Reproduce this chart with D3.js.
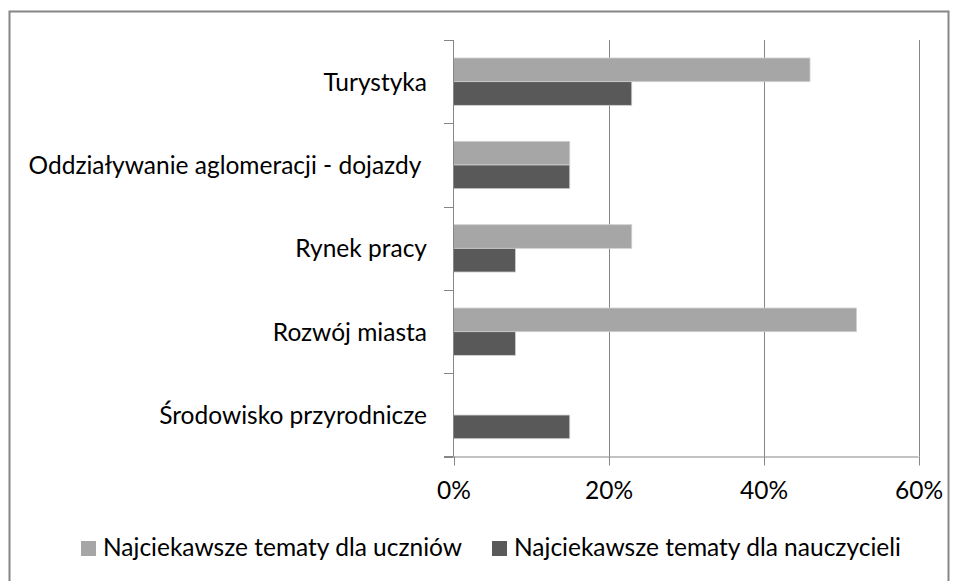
<!DOCTYPE html>
<html>
<head>
<meta charset="utf-8">
<script src="https://cdn.jsdelivr.net/npm/d3@7"></script>
<style>
  html, body { margin: 0; padding: 0; background: #fff; }
  svg { display: block; }
  text { font-family: Lato, "Open Sans", sans-serif; fill: #000; }
</style>
</head>
<body>
<svg id="chart" width="958" height="581"></svg>
<script>
const categories = ["Turystyka", "Oddziaływanie aglomeracji - dojazdy ", "Rynek pracy", "Rozwój miasta", "Środowisko przyrodnicze"];
const seriesNames = ["Najciekawsze tematy dla uczniów", "Najciekawsze tematy dla nauczycieli"];
const studentValues = [0.46, 0.15, 0.23, 0.52, 0];
const teacherValues = [0.23, 0.15, 0.08, 0.08, 0.15];
const xTicks = [0, 0.2, 0.4, 0.6];
const colors = ["#a6a6a6", "#595959"];

const svg = d3.select("#chart");
const FS = 24.5;

// outer chart border
svg.append("rect")
  .attr("x", 9.5).attr("y", 11.5)
  .attr("width", 939).attr("height", 600)
  .attr("fill", "none").attr("stroke", "#868686").attr("stroke-width", 2);

const x = d3.scaleLinear().domain([0, 0.6]).range([453.5, 918.5]);
const y = d3.scaleBand().domain(categories).range([40, 456.7])
  .paddingInner(0.432).paddingOuter(0.216);
const ySub = d3.scaleBand().domain([0, 1]).range([0, y.bandwidth()]);
const yEdges = d3.scaleLinear().domain([0, categories.length]).range([40, 456.7]);

// gridlines
svg.append("g").selectAll("line").data(xTicks.slice(1)).join("line")
  .attr("x1", d => Math.round(x(d)) + 0.5).attr("x2", d => Math.round(x(d)) + 0.5)
  .attr("y1", 40).attr("y2", 456.5)
  .attr("stroke", "#868686").attr("stroke-width", 1);

// bars
const rows = categories.map((c, i) => ({c, v: [studentValues[i], teacherValues[i]]}));
const g = svg.append("g");
rows.forEach(r => {
  r.v.forEach((v, s) => {
    if (v <= 0) return;
    g.append("rect")
      .attr("x", x(0))
      .attr("y", y(r.c) + ySub(s))
      .attr("width", x(v) - x(0))
      .attr("height", ySub.bandwidth())
      .attr("fill", colors[s])
      .attr("stroke", "#d0d0d0").attr("stroke-width", 0.8);
  });
});

// y axis line + ticks at band edges
svg.append("line").attr("x1", 453.5).attr("x2", 453.5).attr("y1", 40).attr("y2", 456.5)
  .attr("stroke", "#868686").attr("stroke-width", 1);
svg.append("g").selectAll("line").data(d3.range(categories.length + 1)).join("line")
  .attr("x1", 444).attr("x2", 453.5)
  .attr("y1", d => Math.round(yEdges(d)) + 0.5).attr("y2", d => Math.round(yEdges(d)) + 0.5)
  .attr("stroke", "#868686").attr("stroke-width", 1);

// x axis
const xAxis = d3.axisBottom(x).tickValues(xTicks).tickFormat(d3.format(".0%")).tickSize(9).tickPadding(16);
const xg = svg.append("g").attr("transform", "translate(0,456.5)").call(xAxis);
xg.select(".domain").attr("stroke", "#868686").attr("d", "M453.5,0.5H918.5");
xg.selectAll(".tick line").attr("stroke", "#868686").attr("transform", "translate(0.5,0)");
xg.selectAll(".tick text").attr("font-family", "Lato, 'Open Sans', sans-serif")
  .attr("font-size", FS).attr("fill", "#000");
svg.append("line").attr("x1", 444).attr("x2", 453.5).attr("y1", 456.5).attr("y2", 456.5)
  .attr("stroke", "#868686");

// category labels
svg.append("g").selectAll("text").data(categories).join("text")
  .attr("x", 427)
  .attr("y", d => y(d) + y.bandwidth() / 2 + 9)
  .attr("text-anchor", "end")
  .attr("font-size", FS)
  .style("white-space", "pre")
  .attr("xml:space", "preserve")
  .text(d => d);

// legend
const legendX = [81, 492];
const lg = svg.append("g");
seriesNames.forEach((n, i) => {
  lg.append("rect").attr("x", legendX[i]).attr("y", 541).attr("width", 15).attr("height", 15)
    .attr("fill", colors[i]);
  lg.append("text").attr("x", legendX[i] + 22).attr("y", 556)
    .attr("font-size", FS).text(n);
});
</script>
</body>
</html>
